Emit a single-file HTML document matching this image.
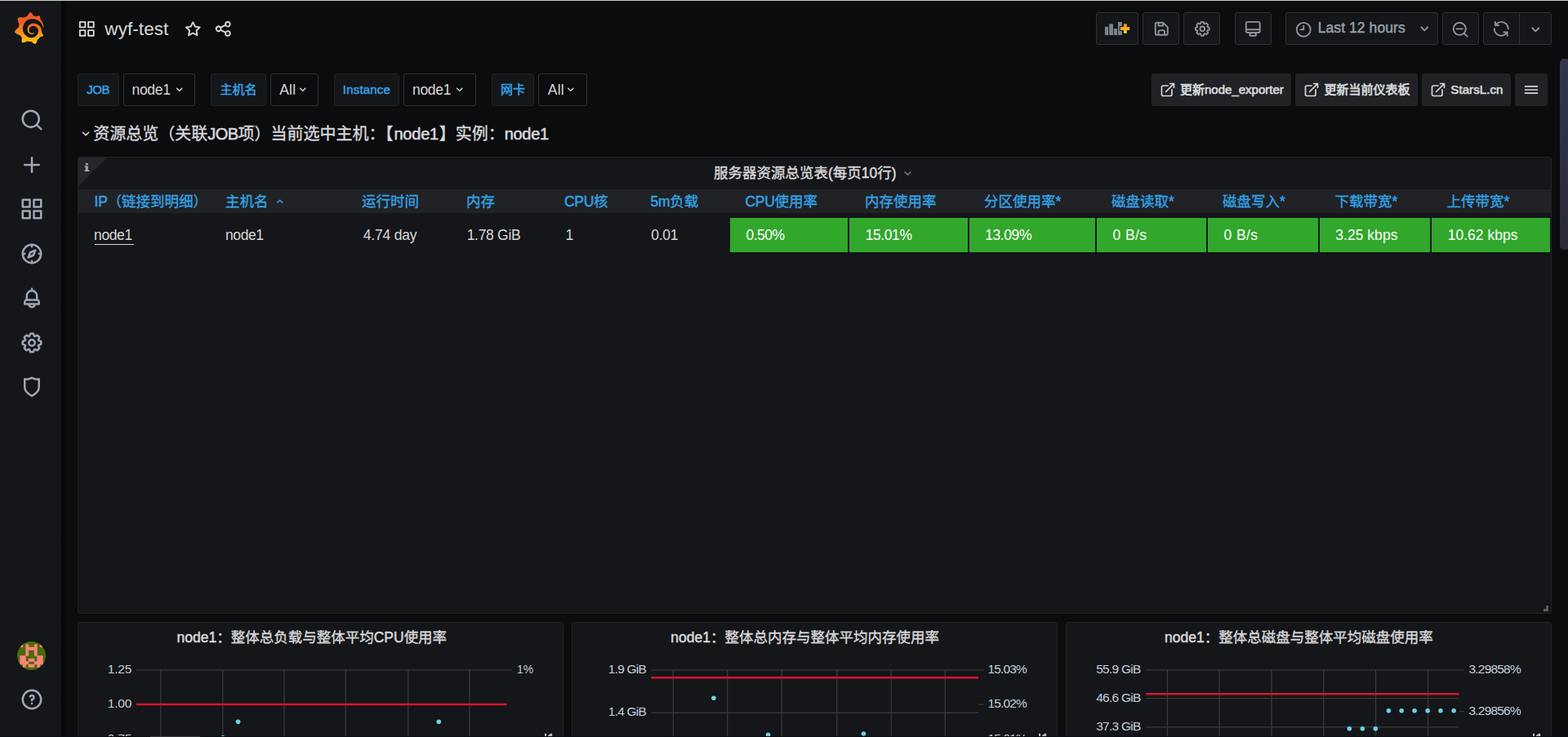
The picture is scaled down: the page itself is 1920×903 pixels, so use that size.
<!DOCTYPE html>
<html lang="zh"><head><meta charset="utf-8"><title>wyf-test - Grafana</title>
<style>
html,body{margin:0;padding:0;background:#0b0c0e;overflow:hidden}
body{width:1920px;height:903px;position:relative;font-family:"Liberation Sans","Noto Sans CJK SC",sans-serif;color:#c7d0d9}
#app{position:absolute;left:0;top:0;width:1920px;height:903px;overflow:hidden}
.t{position:absolute;white-space:nowrap;line-height:1;margin:0}
.b{position:absolute;box-sizing:border-box}
.ic{position:absolute;display:block}
.cj{font-family:"Liberation Sans","Noto Sans CJK SC",sans-serif;letter-spacing:0;-webkit-text-stroke:.35px currentColor}
.m{-webkit-text-stroke:.5px currentColor}
.bd{font-weight:bold}
.rl{letter-spacing:-.65px;-webkit-text-stroke:.55px currentColor}
.hl{letter-spacing:-.3px}

.lk{-webkit-text-stroke:.65px currentColor}
.lk .cj{-webkit-text-stroke:.7px currentColor}
nav,header,main,section,.submenu-controls,.dashboard-row{display:block;position:static;margin:0;padding:0;width:0;height:0}

</style></head>
<body>
<svg width="0" height="0" style="position:absolute"><defs><linearGradient id="lg" gradientUnits="userSpaceOnUse" x1="175.5" y1="445.4" x2="175.5" y2="114"><stop offset="0" stop-color="#fff100"/><stop offset="1" stop-color="#f05a28"/></linearGradient></defs></svg>
<div id="app">
<div class="b " style="left:0px;top:0px;width:1920px;height:1px;background:#cfcecb;"></div>
<nav class="sidemenu" aria-label="Main menu">
<div class="b " style="left:0px;top:1px;width:75px;height:902px;background:#141619;"></div>
<div class="b " style="left:75px;top:1px;width:8px;height:902px;background:linear-gradient(to right,#050607,#0b0c0e);"></div>
<svg class="ic" style="left:16.6px;top:14.9px;width:37.4px;height:38.9px" viewBox="0 0 351 365"><path fill="url(#lg)" d="M342 161.2c-.6-6.1-1.600-13.100-3.600-20.900-2-7.700-5-16.200-9.400-25-4.400-8.800-10.100-17.900-17.500-26.800-2.900-3.500-6.100-6.900-9.500-10.200 5.100-20.300-6.200-37.900-6.200-37.900-19.500-1.200-31.900 6.100-36.500 9.400-.8-.3-1.500-.7-2.300-1-3.300-1.300-6.700-2.600-10.300-3.700-3.500-1.100-7.100-2.100-10.800-3-3.700-.9-7.400-1.600-11.200-2.200-.7-.1-1.300-.2-2-.3-8.500-27.200-32.900-38.600-32.900-38.600-27.300 17.300-32.400 41.500-32.400 41.500s-.1.500-.3 1.400c-1.500.4-3 .9-4.500 1.300-2.100.6-4.200 1.400-6.200 2.200-2.100.8-4.100 1.600-6.200 2.500-4.100 1.800-8.200 3.800-12.200 6-3.900 2.200-7.700 4.600-11.400 7.100-.5-.2-1-.4-1-.4-37.800-14.400-71.300 2.900-71.300 2.900-3.100 40.200 15.100 65.500 18.700 70.100-.9 2.500-1.700 5-2.500 7.500-2.800 9.100-4.900 18.400-6.200 28.100-.2 1.400-.4 2.800-.5 4.200C18.800 192.700 8.500 228 8.500 228c29.100 33.500 63.100 35.600 63.100 35.600 0 0 .1-.1.1-.1 4.300 7.700 9.300 15 14.900 21.900 2.400 2.900 4.800 5.600 7.400 8.300-10.600 30.400 1.500 55.600 1.500 55.600 32.400 1.200 53.700-14.200 58.200-17.700 3.200 1.100 6.500 2.100 9.800 2.900 10 2.600 20.200 4.100 30.400 4.500 2.500.1 5.100.2 7.600.1h1.200l.8 0 1.600 0 1.600-.1 0 .1c15.300 21.800 42.100 24.900 42.100 24.900 19.100-20.100 20.200-40.100 20.200-44.400v0s0-.1 0-.3c0-.4 0-.6 0-.6s0 0 0 0c0-.3 0-.6 0-.9 4-2.800 7.800-5.800 11.400-9.100 7.600-6.900 14.300-14.800 19.900-23.300.5-.8 1-1.600 1.500-2.400 21.600 1.200 36.900-13.400 36.900-13.400-3.600-22.500-16.400-33.500-19.100-35.600 0 0-.1-.1-.3-.2-.2-.1-.2-.2-.2-.2 0 0 0 0 0 0-.1-.1-.3-.2-.5-.3.1-1.400.2-2.700.3-4.100.2-2.400.2-4.900.2-7.300v-1.800l0-.9v-.5c0-.6 0-.4 0-.6l-.1-1.500-.1-2c0-.7-.1-1.300-.2-1.900-.1-.6-.1-1.300-.2-1.900l-.2-1.900-.3-1.900c-.4-2.500-.8-4.900-1.400-7.400-2.300-9.700-6.100-18.900-11-27.200-5-8.300-11.200-15.600-18.300-21.800-7-6.200-14.900-11.200-23.100-14.900-8.300-3.700-16.900-6.100-25.500-7.200-4.300-.6-8.600-.8-12.900-.7l-1.600 0h-.4c-.1 0-.6 0-.5 0l-.7 0-1.600.1c-.6 0-1.200.1-1.700.1-2.200.2-4.400.5-6.500.9-8.600 1.600-16.700 4.700-23.800 9-7.100 4.300-13.300 9.600-18.300 15.600-5 6-8.900 12.700-11.600 19.600-2.700 6.900-4.200 14.100-4.600 21-.1 1.700-.1 3.500-.1 5.200 0 .4 0 .9 0 1.300l.1 1.400c.1.8.1 1.700.2 2.500.3 3.500 1 6.900 1.900 10.100 1.900 6.500 4.900 12.400 8.600 17.400 3.700 5 8.200 9.100 12.900 12.400 4.700 3.200 9.800 5.500 14.800 7 5 1.500 10 2.100 14.700 2.100.6 0 1.200 0 1.700 0 .3 0 .6 0 .9 0 .3 0 .6 0 .9-.1.5 0 1-.1 1.500-.1.100 0 .3 0 .4-.1l.5-.1c.3 0 .6-.1.9-.1.6-.1 1.100-.2 1.700-.3.6-.1 1.100-.2 1.600-.4 1.100-.2 2.100-.6 3.100-.9 2-.7 4-1.500 5.700-2.400 1.800-.9 3.400-2 5-3 .4-.3.9-.6 1.300-1 1.600-1.300 1.900-3.700.6-5.300-1.100-1.400-3.100-1.800-4.700-.9-.4.2-.8.4-1.200.6-1.400.7-2.800 1.300-4.300 1.800-1.500.5-3.100.9-4.700 1.200-.8.1-1.600.2-2.500.3-.4 0-.8.1-1.300.1-.4 0-.9 0-1.200 0-.4 0-.8 0-1.200 0-.5 0-1 0-1.500-.1 0 0-.3 0-.1 0l-.2 0-.3 0c-.2 0-.5 0-.7-.1-.5-.1-.9-.1-1.400-.2-3.700-.5-7.400-1.600-10.900-3.200-3.600-1.600-7-3.800-10.100-6.600-3.100-2.800-5.800-6.100-7.900-9.900-2.100-3.800-3.600-8-4.300-12.400-.3-2.200-.5-4.500-.4-6.700 0-.6.1-1.200.1-1.800 0 .2 0-.1 0-.1l0-.2 0-.5c0-.3.1-.6.1-.9.1-1.200.3-2.400.5-3.600 1.700-9.600 6.500-19 13.900-26.100 1.900-1.800 3.900-3.400 6-4.900 2.100-1.500 4.400-2.800 6.800-3.900 2.400-1.100 4.800-2 7.400-2.700 2.500-.7 5.100-1.100 7.800-1.400 1.300-.1 2.600-.2 4-.2.4 0 .6 0 .9 0l1.100 0 .7 0c.3 0 0 0 .1 0l.3 0 1.100.1c2.900.2 5.700.6 8.500 1.300 5.600 1.200 11.100 3.300 16.200 6.100 10.200 5.700 18.900 14.500 24.200 25.100 2.700 5.300 4.600 11 5.500 16.900.2 1.500.4 3 .5 4.500l.1 1.100.1 1.100c0 .4 0 .8 0 1.100 0 .4 0 .8 0 1.100v1l0 1.100c0 .7-.1 1.900-.1 2.600-.1 1.600-.3 3.300-.5 4.900-.2 1.600-.5 3.200-.8 4.800-.3 1.600-.7 3.200-1.100 4.700-.8 3.100-1.800 6.200-3 9.300-2.400 6-5.600 11.800-9.400 17.100-7.700 10.600-18.200 19.200-30.200 24.700-6 2.700-12.300 4.700-18.800 5.700-3.200.6-6.500.9-9.800 1l-.6 0h-.5l-1.100 0h-1.600-.8c.4 0-.1 0-.1 0l-.3 0c-1.800 0-3.500-.1-5.300-.3-7-.5-13.900-1.800-20.700-3.700-6.700-1.900-13.200-4.600-19.400-7.800-12.300-6.600-23.400-15.600-32-26.500-4.300-5.400-8.100-11.300-11.200-17.400-3.100-6.100-5.600-12.600-7.400-19.100-1.800-6.600-2.900-13.300-3.400-20.100l-.1-1.300 0-.3 0-.3 0-.6 0-1.100 0-.3v-.4-.8l0-1.600v-.3c0 0 0 .1 0-.1v-.6c0-.8 0-1.700 0-2.500.1-3.300.4-6.800.8-10.200.4-3.400 1-6.900 1.700-10.300.7-3.400 1.500-6.800 2.500-10.200 1.900-6.700 4.300-13.200 7.100-19.300 5.700-12.200 13.100-23.100 22-31.800 2.200-2.200 4.500-4.200 6.900-6.200 2.400-1.900 4.900-3.700 7.500-5.400 2.500-1.700 5.200-3.200 7.900-4.600 1.300-.7 2.700-1.400 4.100-2 .7-.3 1.400-.6 2.100-.9.7-.3 1.400-.6 2.100-.9 2.800-1.200 5.700-2.200 8.700-3.100.7-.2 1.500-.4 2.200-.7.7-.2 1.500-.4 2.200-.6 1.500-.4 3-.8 4.500-1.100.7-.2 1.500-.3 2.300-.5.8-.2 1.500-.3 2.300-.5.8-.1 1.500-.3 2.300-.4l1.100-.2 1.200-.2c.8-.1 1.500-.2 2.300-.3.9-.1 1.700-.2 2.600-.3.7-.1 1.900-.2 2.600-.3.5-.1 1.100-.1 1.600-.2l1.100-.1.5-.1.6 0c.9-.1 1.700-.1 2.600-.2l1.300-.1c0 0 .5 0 .1 0l.3 0 .6 0c.7 0 1.500-.1 2.200-.1 2.900-.1 5.900-.1 8.800 0 5.800.2 11.500.9 17 1.900 11.100 2.100 21.500 5.600 31 10.300 9.500 4.600 17.900 10.300 25.300 16.500.5.4.9.800 1.400 1.200.4.4.9.8 1.300 1.200.9.8 1.700 1.600 2.600 2.400.9.8 1.700 1.600 2.500 2.400.8.8 1.600 1.600 2.400 2.500 3.100 3.300 6 6.600 8.600 10 5.200 6.700 9.400 13.500 12.700 19.900.2.4.4.8.6 1.200.2.4.4.8.6 1.200.4.8.8 1.600 1.100 2.400.4.8.7 1.500 1.100 2.300.3.8.7 1.500 1 2.300 1.200 3 2.400 5.900 3.300 8.600 1.500 4.400 2.600 8.300 3.500 11.700.3 1.400 1.600 2.300 3 2.100 1.500-.1 2.600-1.300 2.600-2.800C342.600 170.400 342.500 166.100 342 161.200z"/></svg>
<svg class="ic" style="left:24.00px;top:132.00px;width:30px;height:30px;fill:#9fa7b3;" viewBox="0 0 24 24"><path d="M21.71,20.29,18,16.61A9,9,0,1,0,16.61,18l3.68,3.68a1,1,0,0,0,1.42,0A1,1,0,0,0,21.71,20.29ZM11,18a7,7,0,1,1,7-7A7,7,0,0,1,11,18Z"/></svg>
<svg class="ic" style="left:24.00px;top:187.20px;width:30px;height:30px;fill:#9fa7b3;" viewBox="0 0 24 24"><path d="M19,11H13V5a1,1,0,0,0-2,0v6H5a1,1,0,0,0,0,2h6v6a1,1,0,0,0,2,0V13h6a1,1,0,0,0,0-2Z"/></svg>
<svg class="ic" style="left:24.00px;top:241.30px;width:30px;height:30px;fill:#9fa7b3;" viewBox="0 0 24 24"><path d="M10,13H3a1,1,0,0,0-1,1v7a1,1,0,0,0,1,1h7a1,1,0,0,0,1-1V14A1,1,0,0,0,10,13ZM9,20H4V15H9ZM21,2H14a1,1,0,0,0-1,1v7a1,1,0,0,0,1,1h7a1,1,0,0,0,1-1V3A1,1,0,0,0,21,2ZM20,9H15V4h5Zm1,4H14a1,1,0,0,0-1,1v7a1,1,0,0,0,1,1h7a1,1,0,0,0,1-1V14A1,1,0,0,0,21,13Zm-1,7H15V15h5ZM10,2H3A1,1,0,0,0,2,3v7a1,1,0,0,0,1,1h7a1,1,0,0,0,1-1V3A1,1,0,0,0,10,2ZM9,9H4V4H9Z"/></svg>
<svg class="ic" style="left:24.00px;top:296.10px;width:30px;height:30px;fill:#9fa7b3;" viewBox="0 0 24 24"><path d="M12,2A10,10,0,1,0,22,12,10,10,0,0,0,12,2Zm1,17.930V19a1,1,0,0,0-2,0v.93A8,8,0,0,1,4.070,13H5a1,1,0,0,0,0-2H4.070A8,8,0,0,1,11,4.070V5a1,1,0,0,0,2,0V4.070A8,8,0,0,1,19.930,11H19a1,1,0,0,0,0,2h.93A8,8,0,0,1,13,19.930ZM15.140,7.550l-5,2.120a1,1,0,0,0-.52.520l-2.120,5a1,1,0,0,0,.21,1.100,1,1,0,0,0,.7.290.93.930,0,0,0,.4-.08l5-2.120a1,1,0,0,0,.52-.52l2.120-5a1,1,0,0,0-1.310-1.310Zm-2.490,5.100-2.280,1,1-2.280,2.280-1Z"/></svg>
<svg class="ic" style="left:24.00px;top:350.00px;width:30px;height:30px;fill:#9fa7b3;" viewBox="0 0 24 24"><path d="M18,13.18V10a6,6,0,0,0-5-5.910V3a1,1,0,0,0-2,0V4.090A6,6,0,0,0,6,10v3.180A3,3,0,0,0,4,16v2a1,1,0,0,0,1,1H8.140a4,4,0,0,0,7.720,0H19a1,1,0,0,0,1-1V16A3,3,0,0,0,18,13.180ZM8,10a4,4,0,0,1,8,0v3H8Zm4,10a2,2,0,0,1-1.720-1h3.440A2,2,0,0,1,12,20Zm6-3H6V16a1,1,0,0,1,1-1H17a1,1,0,0,1,1,1Z"/></svg>
<svg class="ic" style="left:24.00px;top:404.60px;width:30px;height:30px;fill:#9fa7b3;" viewBox="0 0 24 24"><path d="M21.32,9.55l-1.890-.63.890-1.780A1,1,0,0,0,20.130,6L18,3.870a1,1,0,0,0-1.150-.19l-1.780.89-.63-1.890A1,1,0,0,0,13.500,2h-3a1,1,0,0,0-.95.680L8.920,4.570,7.140,3.680A1,1,0,0,0,6,3.870L3.870,6a1,1,0,0,0-.19,1.150l.89,1.780-1.890.63A1,1,0,0,0,2,10.500v3a1,1,0,0,0,.68.950l1.890.63-.89,1.780A1,1,0,0,0,3.870,18L6,20.130a1,1,0,0,0,1.150.19l1.780-.89.63,1.890a1,1,0,0,0,.95.680h3a1,1,0,0,0,.95-.68l.63-1.890,1.780.89A1,1,0,0,0,18,20.130L20.130,18a1,1,0,0,0,.19-1.150l-.89-1.780,1.890-.63A1,1,0,0,0,22,13.500v-3A1,1,0,0,0,21.320,9.550ZM20,12.780l-1.200.4A2,2,0,0,0,17.640,16l.57,1.140-1.100,1.100L16,17.640a2,2,0,0,0-2.790,1.160l-.4,1.200H11.220l-.4-1.200A2,2,0,0,0,8,17.640l-1.140.57-1.100-1.100L6.360,16A2,2,0,0,0,5.200,13.180L4,12.780V11.220l1.200-.4A2,2,0,0,0,6.360,8L5.790,6.890l1.100-1.100L8,6.360A2,2,0,0,0,10.820,5.200l.4-1.200h1.560l.4,1.200A2,2,0,0,0,16,6.360l1.140-.57,1.100,1.100L17.640,8a2,2,0,0,0,1.160,2.790l1.200.4ZM12,8a4,4,0,1,0,4,4A4,4,0,0,0,12,8Zm0,6a2,2,0,1,1,2-2A2,2,0,0,1,12,14Z"/></svg>
<svg class="ic" style="left:24.00px;top:458.90px;width:30px;height:30px;fill:#9fa7b3;" viewBox="0 0 24 24"><path d="M19.63,3.65a1,1,0,0,0-.84-.2,8,8,0,0,1-6.220-1.270,1,1,0,0,0-1.140,0A8,8,0,0,1,5.210,3.450a1,1,0,0,0-.84.2A1,1,0,0,0,4,4.430v7.450a9,9,0,0,0,3.770,7.330l3.650,2.600a1,1,0,0,0,1.160,0l3.650-2.600A9,9,0,0,0,20,11.880V4.430A1,1,0,0,0,19.630,3.650ZM18,11.880a7,7,0,0,1-2.930,5.690L12,19.770l-3.070-2.200A7,7,0,0,1,6,11.880V5.580a10,10,0,0,0,6-1.390,10,10,0,0,0,6,1.390Z"/></svg>
<svg class="ic" style="left:21.2px;top:785.9px;width:35px;height:35px;border-radius:50%;background:#4a6b0a" viewBox="-1 -1 10 10"><path fill="#ff847a" d="M-0.04 -0.04H1.04V1.04H-0.04ZM1.96 -0.04H3.04V1.04H1.96ZM4.96 -0.04H6.04V1.04H4.96ZM6.96 -0.04H8.04V1.04H6.96ZM1.96 0.96H6.04V2.04H1.96ZM1.96 1.96H3.04V3.04H1.96ZM4.96 1.96H6.04V3.04H4.96ZM1.96 2.96H3.04V4.04H1.96ZM4.96 2.96H6.04V4.04H4.96ZM-0.04 3.96H2.04V5.04H-0.04ZM5.96 3.96H8.04V5.04H5.96ZM-0.04 4.96H2.04V6.04H-0.04ZM2.96 4.96H5.04V6.04H2.96ZM5.96 4.96H8.04V6.04H5.96ZM-0.04 5.96H3.04V7.04H-0.04ZM4.96 5.96H8.04V7.04H4.96ZM0.96 6.96H2.04V8.04H0.96ZM2.96 6.96H5.04V8.04H2.96ZM5.96 6.96H7.04V8.04H5.96ZM2.02 0.5H2.98V1.5H2.02ZM5.02 0.5H5.98V1.5H5.02ZM2.02 1.5H2.98V2.5H2.02ZM5.02 1.5H5.98V2.5H5.02ZM2.02 2.5H2.98V3.5H2.02ZM5.02 2.5H5.98V3.5H5.02ZM0.02 4.5H0.98V5.5H0.02ZM1.02 4.5H1.98V5.5H1.02ZM6.02 4.5H6.98V5.5H6.02ZM7.02 4.5H7.98V5.5H7.02ZM0.02 5.5H0.98V6.5H0.02ZM1.02 5.5H1.98V6.5H1.02ZM6.02 5.5H6.98V6.5H6.02ZM7.02 5.5H7.98V6.5H7.02ZM1.02 6.5H1.98V7.5H1.02ZM6.02 6.5H6.98V7.5H6.02Z"/></svg>
<svg class="ic" style="left:23.80px;top:842.00px;width:30px;height:30px;fill:#9fa7b3;" viewBox="0 0 24 24"><path d="M11.29,15.29a1.58,1.58,0,0,0-.12.15.76.76,0,0,0-.09.18.64.64,0,0,0-.06.18,1.36,1.36,0,0,0,0,.2.84.84,0,0,0,.08.38.9.9,0,0,0,.54.54.94.94,0,0,0,.76,0,.9.9,0,0,0,.54-.54A1,1,0,0,0,13,16a1,1,0,0,0-.29-.71A1,1,0,0,0,11.29,15.29ZM12,2A10,10,0,1,0,22,12,10,10,0,0,0,12,2Zm0,18a8,8,0,1,1,8-8A8,8,0,0,1,12,20ZM12,7A3,3,0,0,0,9.4,8.5a1,1,0,1,0,1.73,1A1,1,0,0,1,12,9a1,1,0,0,1,0,2,1,1,0,0,0-1,1v1a1,1,0,0,0,2,0v-.18A3,3,0,0,0,12,7Z"/></svg>
</nav>
<header class="navbar">
<svg class="ic" style="left:95.15px;top:23.65px;width:22.5px;height:22.5px;fill:#d8d9da;" viewBox="0 0 24 24"><path d="M10,13H3a1,1,0,0,0-1,1v7a1,1,0,0,0,1,1h7a1,1,0,0,0,1-1V14A1,1,0,0,0,10,13ZM9,20H4V15H9ZM21,2H14a1,1,0,0,0-1,1v7a1,1,0,0,0,1,1h7a1,1,0,0,0,1-1V3A1,1,0,0,0,21,2ZM20,9H15V4h5Zm1,4H14a1,1,0,0,0-1,1v7a1,1,0,0,0,1,1h7a1,1,0,0,0,1-1V14A1,1,0,0,0,21,13Zm-1,7H15V15h5ZM10,2H3A1,1,0,0,0,2,3v7a1,1,0,0,0,1,1h7a1,1,0,0,0,1-1V3A1,1,0,0,0,10,2ZM9,9H4V4H9Z"/></svg>
<div class="t " id="title" style="left:128.30px;top:25px;font-size:22.5px;color:#d8d9da;letter-spacing:0.080px;">wyf-test</div>
<svg class="ic" style="left:224.75px;top:23.55px;width:22.5px;height:22.5px;fill:#d8d9da;" viewBox="0 0 24 24"><path d="M22,9.67A1,1,0,0,0,21.14,9l-5.69-.83L12.9,3a1,1,0,0,0-1.8,0L8.55,8.16,2.86,9a1,1,0,0,0-.81.68,1,1,0,0,0,.25,1l4.13,4-1,5.68A1,1,0,0,0,6.900,21.440L12,18.770l5.100,2.670a.93.93,0,0,0,.46.12,1,1,0,0,0,.59-.19,1,1,0,0,0,.4-1l-1-5.680,4.130-4A1,1,0,0,0,22,9.670Zm-6.150,4a1,1,0,0,0-.29.880l.72,4.200-3.760-2a1.060,1.060,0,0,0-.94,0l-3.760,2,.72-4.200a1,1,0,0,0-.29-.880l-3-3,4.210-.61a1,1,0,0,0,.76-.55L12,5.700l1.880,3.820a1,1,0,0,0,.76.55l4.210.61Z"/></svg>
<svg class="ic" style="left:262.45px;top:23.75px;width:22.5px;height:22.5px;fill:#d8d9da;" viewBox="0 0 24 24"><path d="M18,14a4,4,0,0,0-3.080,1.480l-5.100-2.350a3.640,3.640,0,0,0,0-2.260l5.100-2.350A4,4,0,1,0,14,6a4.170,4.170,0,0,0,.07.710L8.790,9.140a4,4,0,1,0,0,5.720l5.280,2.430A4.170,4.170,0,0,0,14,18a4,4,0,1,0,4-4ZM18,4a2,2,0,1,1-2,2A2,2,0,0,1,18,4ZM6,14a2,2,0,1,1,2-2A2,2,0,0,1,6,14Zm12,6a2,2,0,1,1,2-2A2,2,0,0,1,18,20Z"/></svg>
<div class="b " style="left:1342px;top:15px;width:52px;height:40px;background:#141619;border:1px solid #2c3235;border-radius:3px;"></div>
<div class="b " style="left:1399px;top:15px;width:45px;height:40px;background:#141619;border:1px solid #2c3235;border-radius:3px;"></div>
<div class="b " style="left:1449px;top:15px;width:45px;height:40px;background:#141619;border:1px solid #2c3235;border-radius:3px;"></div>
<div class="b " style="left:1512px;top:15px;width:45px;height:40px;background:#141619;border:1px solid #2c3235;border-radius:3px;"></div>
<div class="b " style="left:1574px;top:15px;width:187px;height:40px;background:#141619;border:1px solid #2c3235;border-radius:3px;"></div>
<div class="b " style="left:1766px;top:15px;width:45px;height:40px;background:#141619;border:1px solid #2c3235;border-radius:3px;"></div>
<div class="b " style="left:1816px;top:15px;width:84px;height:40px;background:#141619;border:1px solid #2c3235;border-radius:3px;"></div>
<div class="b " style="left:1860px;top:16px;width:1px;height:38px;background:#2c3235;"></div>
<svg class="ic" style="left:1350px;top:24px;width:36px;height:22px" viewBox="0 0 36 22"><defs><linearGradient id="pg" x1="0" y1="0" x2="0" y2="1"><stop offset="0" stop-color="#ff8833"/><stop offset="1" stop-color="#ffd21f"/></linearGradient></defs><g fill="#7e848e"><rect x="2.9" y="8.700" width="4.2" height="10.3"/><rect x="8.2" y="5.3" width="4.800" height="13.7"/><rect x="13.9" y="11.1" width="4.100" height="7.9"/><rect x="19" y="3" width="4.800" height="16"/></g><path fill="#141619" d="M20.800 7.900h4.100V4.300h5.900v3.600h3.400v6.100h-3.400v3.800h-5.900v-3.800h-4.100z"/><path fill="url(#pg)" d="M21.800 8.900h4.100V5.300h3.900v3.600h3.400v4.100h-3.400v3.800h-3.900v-3.800h-4.100z"/></svg>
<svg class="ic" style="left:1410.95px;top:24.35px;width:22.5px;height:22.5px;fill:#8e949d;" viewBox="0 0 24 24"><path d="M20.71,9.29l-6-6a1,1,0,0,0-.32-.21A1.090,1.090,0,0,0,14,3H6A3,3,0,0,0,3,6V18a3,3,0,0,0,3,3H18a3,3,0,0,0,3-3V10A1,1,0,0,0,20.710,9.290ZM9,5h4V7H9Zm6,14H9V16a1,1,0,0,1,1-1h4a1,1,0,0,1,1,1Zm4-1a1,1,0,0,1-1,1H17V16a3,3,0,0,0-3-3H10a3,3,0,0,0-3,3v3H6a1,1,0,0,1-1-1V6A1,1,0,0,1,6,5H7V8A1,1,0,0,0,8,9h6a1,1,0,0,0,1-1V6.410l4,4Z"/></svg>
<svg class="ic" style="left:1460.75px;top:24.25px;width:22.5px;height:22.5px;fill:#8e949d;" viewBox="0 0 24 24"><path d="M21.32,9.55l-1.890-.63.890-1.780A1,1,0,0,0,20.130,6L18,3.870a1,1,0,0,0-1.150-.19l-1.780.89-.63-1.890A1,1,0,0,0,13.500,2h-3a1,1,0,0,0-.95.680L8.920,4.570,7.140,3.680A1,1,0,0,0,6,3.870L3.870,6a1,1,0,0,0-.19,1.150l.89,1.780-1.890.63A1,1,0,0,0,2,10.500v3a1,1,0,0,0,.68.950l1.890.63-.89,1.780A1,1,0,0,0,3.870,18L6,20.130a1,1,0,0,0,1.150.19l1.780-.89.63,1.890a1,1,0,0,0,.95.680h3a1,1,0,0,0,.95-.68l.63-1.890,1.780.89A1,1,0,0,0,18,20.130L20.130,18a1,1,0,0,0,.19-1.150l-.89-1.780,1.890-.63A1,1,0,0,0,22,13.500v-3A1,1,0,0,0,21.320,9.550ZM20,12.780l-1.200.4A2,2,0,0,0,17.640,16l.57,1.140-1.100,1.100L16,17.640a2,2,0,0,0-2.790,1.160l-.4,1.200H11.220l-.4-1.200A2,2,0,0,0,8,17.640l-1.140.57-1.100-1.100L6.360,16A2,2,0,0,0,5.200,13.180L4,12.780V11.220l1.200-.4A2,2,0,0,0,6.360,8L5.790,6.890l1.100-1.100L8,6.360A2,2,0,0,0,10.820,5.200l.4-1.200h1.560l.4,1.200A2,2,0,0,0,16,6.360l1.140-.57,1.100,1.100L17.640,8a2,2,0,0,0,1.160,2.790l1.200.4ZM12,8a4,4,0,1,0,4,4A4,4,0,0,0,12,8Zm0,6a2,2,0,1,1,2-2A2,2,0,0,1,12,14Z"/></svg>
<svg class="ic" style="left:1523.15px;top:24.25px;width:22.5px;height:22.5px;fill:#8e949d;" viewBox="0 0 24 24"><path d="M19,2H5A3,3,0,0,0,2,5V15a3,3,0,0,0,3,3H7.640l-.58,1a2,2,0,0,0,0,2,2,2,0,0,0,1.750,1h6.460A2,2,0,0,0,17,21a2,2,0,0,0,0-2l-.59-1H19a3,3,0,0,0,3-3V5A3,3,0,0,0,19,2ZM8.770,20,10,18H14l1.200,2ZM20,15a1,1,0,0,1-1,1H5a1,1,0,0,1-1-1V14H20Zm0-3H4V5A1,1,0,0,1,5,4H19a1,1,0,0,1,1,1Z"/></svg>
<svg class="ic" style="left:1584.75px;top:24.55px;width:22.5px;height:22.5px;fill:#8e949d;" viewBox="0 0 24 24"><path d="M12,2A10,10,0,1,0,22,12,10.011,10.011,0,0,0,12,2Zm0,18a8,8,0,1,1,8-8A8.009,8.009,0,0,1,12,20ZM12,6a1,1,0,0,0-1,1v4H8a1,1,0,0,0,0,2h4a1,1,0,0,0,1-1V7A1,1,0,0,0,12,6Z"/></svg>
<div class="t m" id="tp" style="left:1613.76px;top:26px;font-size:17.5px;color:#969da7;letter-spacing:0.070px;">Last 12 hours</div>
<svg class="ic" style="left:1732.75px;top:24.25px;width:22.5px;height:22.5px;fill:#8e949d;" viewBox="0 0 24 24"><path d="M17,9.17a1,1,0,0,0-1.41,0L12,12.71,8.46,9.17a1,1,0,0,0-1.41,0,1,1,0,0,0,0,1.42l4.24,4.24a1,1,0,0,0,1.42,0L17,10.59A1,1,0,0,0,17,9.17Z"/></svg>
<svg class="ic" style="left:1777.45px;top:24.75px;width:22.5px;height:22.5px;fill:#8e949d;" viewBox="0 0 24 24"><path d="M21.71,20.29,18,16.61A9,9,0,1,0,16.61,18l3.68,3.68a1,1,0,0,0,1.420,0A1,1,0,0,0,21.710,20.290ZM11,18a7,7,0,1,1,7-7A7,7,0,0,1,11,18Zm4-8H7a1,1,0,0,0,0,2h8a1,1,0,0,0,0-2Z"/></svg>
<svg class="ic" style="left:1827.45px;top:24.35px;width:22.5px;height:22.5px;fill:#8e949d;" viewBox="0 0 24 24"><path d="M19.91,15.51H15.38a1,1,0,0,0,0,2h2.400A8,8,0,0,1,4,12a1,1,0,0,0-2,0,10,10,0,0,0,16.880,7.230V21a1,1,0,0,0,2,0V16.500A1,1,0,0,0,19.910,15.510ZM12,2A10,10,0,0,0,5.120,4.770V3a1,1,0,0,0-2,0V7.500a1,1,0,0,0,1,1h4.500a1,1,0,0,0,0-2H6.220A8,8,0,0,1,20,12a1,1,0,0,0,2,0A10,10,0,0,0,12,2Z"/></svg>
<svg class="ic" style="left:1868.75px;top:24.75px;width:22.5px;height:22.5px;fill:#8e949d;" viewBox="0 0 24 24"><path d="M17,9.17a1,1,0,0,0-1.41,0L12,12.71,8.46,9.17a1,1,0,0,0-1.41,0,1,1,0,0,0,0,1.42l4.24,4.24a1,1,0,0,0,1.42,0L17,10.59A1,1,0,0,0,17,9.17Z"/></svg>
</header>
<div class="submenu-controls">
<div class="b " style="left:95px;top:90px;width:51px;height:40px;background:#141619;border:1px solid #1f2125;border-radius:3px;"></div>
<div class="t m" id="v1" style="left:106.14px;top:102px;font-size:15px;color:#33a2e5;letter-spacing:-0.420px;">JOB</div>
<div class="b " style="left:151px;top:90px;width:88px;height:40px;background:#0b0c0e;border:1px solid #2c3235;border-radius:3px;"></div>
<div class="t " id="vv1" style="left:161.50px;top:102px;font-size:17.5px;color:#d8d9da;letter-spacing:-0.300px;">node1</div>
<svg class="ic" style="left:210.75px;top:101.25px;width:17.5px;height:17.5px;fill:#d8d9da;" viewBox="0 0 24 24"><path d="M17,9.17a1,1,0,0,0-1.41,0L12,12.71,8.46,9.17a1,1,0,0,0-1.41,0,1,1,0,0,0,0,1.42l4.24,4.24a1,1,0,0,0,1.42,0L17,10.59A1,1,0,0,0,17,9.170Z"/></svg>
<div class="b " style="left:258px;top:90px;width:68px;height:40px;background:#141619;border:1px solid #1f2125;border-radius:3px;"></div>
<div class="t m" style="left:269.50px;top:102px;font-size:15px;color:#33a2e5;">主机名</div>
<div class="b " style="left:331px;top:90px;width:59px;height:40px;background:#0b0c0e;border:1px solid #2c3235;border-radius:3px;"></div>
<div class="t " id="vv2" style="left:342.15px;top:102px;font-size:17.5px;color:#d8d9da;letter-spacing:0.300px;">All</div>
<svg class="ic" style="left:361.65px;top:101.25px;width:17.5px;height:17.5px;fill:#d8d9da;" viewBox="0 0 24 24"><path d="M17,9.17a1,1,0,0,0-1.41,0L12,12.71,8.46,9.17a1,1,0,0,0-1.41,0,1,1,0,0,0,0,1.42l4.24,4.24a1,1,0,0,0,1.42,0L17,10.59A1,1,0,0,0,17,9.17Z"/></svg>
<div class="b " style="left:409px;top:90px;width:80px;height:40px;background:#141619;border:1px solid #1f2125;border-radius:3px;"></div>
<div class="t m" id="v3" style="left:419.80px;top:102px;font-size:15px;color:#33a2e5;letter-spacing:0.200px;">Instance</div>
<div class="b " style="left:494px;top:90px;width:89px;height:40px;background:#0b0c0e;border:1px solid #2c3235;border-radius:3px;"></div>
<div class="t " id="vv3" style="left:505.00px;top:102px;font-size:17.5px;color:#d8d9da;letter-spacing:-0.300px;">node1</div>
<svg class="ic" style="left:553.75px;top:101.25px;width:17.5px;height:17.5px;fill:#d8d9da;" viewBox="0 0 24 24"><path d="M17,9.17a1,1,0,0,0-1.41,0L12,12.71,8.46,9.17a1,1,0,0,0-1.41,0,1,1,0,0,0,0,1.42l4.24,4.24a1,1,0,0,0,1.42,0L17,10.59A1,1,0,0,0,17,9.17Z"/></svg>
<div class="b " style="left:602px;top:90px;width:52px;height:40px;background:#141619;border:1px solid #1f2125;border-radius:3px;"></div>
<div class="t m" style="left:613.00px;top:102px;font-size:15px;color:#33a2e5;">网卡</div>
<div class="b " style="left:659px;top:90px;width:60px;height:40px;background:#0b0c0e;border:1px solid #2c3235;border-radius:3px;"></div>
<div class="t " id="vv4" style="left:670.70px;top:102px;font-size:17.5px;color:#d8d9da;letter-spacing:0.300px;">All</div>
<svg class="ic" style="left:689.75px;top:101.25px;width:17.5px;height:17.5px;fill:#d8d9da;" viewBox="0 0 24 24"><path d="M17,9.17a1,1,0,0,0-1.41,0L12,12.71,8.46,9.17a1,1,0,0,0-1.41,0,1,1,0,0,0,0,1.42l4.24,4.24a1,1,0,0,0,1.42,0L17,10.59A1,1,0,0,0,17,9.17Z"/></svg>
<div class="b " style="left:1410px;top:90px;width:171px;height:40px;background:#202226;border-radius:3px;"></div>
<svg class="ic" style="left:1420.00px;top:100.00px;width:20px;height:20px;fill:#d8d9da;" viewBox="0 0 24 24"><path d="M18,10.82a1,1,0,0,0-1,1V19a1,1,0,0,1-1,1H5a1,1,0,0,1-1-1V8A1,1,0,0,1,5,7h7.180a1,1,0,0,0,0-2H5A3,3,0,0,0,2,8V19a3,3,0,0,0,3,3H16a3,3,0,0,0,3-3V11.820A1,1,0,0,0,18,10.820Zm3.920-8.200a1,1,0,0,0-.54-.54A1,1,0,0,0,21,2H15a1,1,0,0,0,0,2h3.590L8.290,14.290a1,1,0,0,0,0,1.420,1,1,0,0,0,1.420,0L20,5.410V9a1,1,0,0,0,2,0V3A1,1,0,0,0,21.920,2.620Z"/></svg>
<div class="t lk" id="l1" style="left:1445.00px;top:102px;font-size:15px;color:#d8d9da;"><span class="cj">更新</span>node_exporter</div>
<div class="b " style="left:1586px;top:90px;width:150px;height:40px;background:#202226;border-radius:3px;"></div>
<svg class="ic" style="left:1596.00px;top:100.00px;width:20px;height:20px;fill:#d8d9da;" viewBox="0 0 24 24"><path d="M18,10.82a1,1,0,0,0-1,1V19a1,1,0,0,1-1,1H5a1,1,0,0,1-1-1V8A1,1,0,0,1,5,7h7.180a1,1,0,0,0,0-2H5A3,3,0,0,0,2,8V19a3,3,0,0,0,3,3H16a3,3,0,0,0,3-3V11.820A1,1,0,0,0,18,10.820Zm3.920-8.200a1,1,0,0,0-.54-.54A1,1,0,0,0,21,2H15a1,1,0,0,0,0,2h3.590L8.290,14.290a1,1,0,0,0,0,1.420,1,1,0,0,0,1.420,0L20,5.410V9a1,1,0,0,0,2,0V3A1,1,0,0,0,21.920,2.620Z"/></svg>
<div class="t lk" style="left:1621.50px;top:102px;font-size:15px;color:#d8d9da;"><span class="cj">更新当前仪表板</span></div>
<div class="b " style="left:1741px;top:90px;width:109px;height:40px;background:#202226;border-radius:3px;"></div>
<svg class="ic" style="left:1750.80px;top:100.00px;width:20px;height:20px;fill:#d8d9da;" viewBox="0 0 24 24"><path d="M18,10.82a1,1,0,0,0-1,1V19a1,1,0,0,1-1,1H5a1,1,0,0,1-1-1V8A1,1,0,0,1,5,7h7.180a1,1,0,0,0,0-2H5A3,3,0,0,0,2,8V19a3,3,0,0,0,3,3H16a3,3,0,0,0,3-3V11.820A1,1,0,0,0,18,10.820Zm3.920-8.200a1,1,0,0,0-.54-.54A1,1,0,0,0,21,2H15a1,1,0,0,0,0,2h3.590L8.290,14.290a1,1,0,0,0,0,1.420,1,1,0,0,0,1.420,0L20,5.410V9a1,1,0,0,0,2,0V3A1,1,0,0,0,21.920,2.620Z"/></svg>
<div class="t lk" id="l3" style="left:1776.30px;top:102px;font-size:15px;color:#d8d9da;letter-spacing:0.100px;">StarsL.cn</div>
<div class="b " style="left:1855px;top:90px;width:40px;height:40px;background:#202226;border-radius:3px;"></div>
<svg class="ic" style="left:1864.80px;top:100.00px;width:20px;height:20px;fill:#d8d9da;" viewBox="0 0 24 24"><path d="M3,8H21a1,1,0,0,0,0-2H3A1,1,0,0,0,3,8Zm18,8H3a1,1,0,0,0,0,2H21a1,1,0,0,0,0-2Zm0-5H3a1,1,0,0,0,0,2H21a1,1,0,0,0,0-2Z"/></svg>
</div>
<div class="b " style="left:1910px;top:71.5px;width:12px;height:234.5px;border-radius:5px;background:linear-gradient(#34374b,#282a38);"></div>
<main class="dashboard-container">
<div class="dashboard-row">
<svg class="ic" style="left:95.20px;top:153.80px;width:20px;height:20px;fill:#d8d9da;" viewBox="0 0 24 24"><path d="M17,9.17a1,1,0,0,0-1.41,0L12,12.71,8.46,9.17a1,1,0,0,0-1.41,0,1,1,0,0,0,0,1.42l4.24,4.24a1,1,0,0,0,1.42,0L17,10.59A1,1,0,0,0,17,9.17Z"/></svg>
<div class="t " id="row" style="left:114.30px;top:154px;font-size:20px;color:#d8d9da;"><span class="cj">资源总览（关联</span><span class="rl" style="letter-spacing:-.6px">JOB</span><span class="cj">项）当前选中主机：【</span><span class="rl" style="letter-spacing:-.2px;margin-left:1px;margin-right:.8px">node1</span><span class="cj">】实例：</span><span class="rl" style="letter-spacing:-.35px">node1</span></div>
</div>
<section class="panel-container table-panel">
<div class="b " style="left:95px;top:192px;width:1805px;height:560px;background:#141619;border:1px solid #202226;border-radius:3px;"></div>
<svg class="ic" style="left:96px;top:193px;width:36px;height:36px" viewBox="0 0 36 36"><path d="M0 0H35L0 35Z" fill="#24262b"/><path fill="#a4a8ae" d="M8.800 7h3v2.200h-3zM7.800 10.200h4v5h1.500v1.900h-5.700v-1.900h1.200v-3.300h-1z"/></svg>
<div class="t " id="p1t" style="left:874.00px;top:204px;font-size:17.5px;color:#d8d9da;"><span class="cj">服务器资源总览表</span><span class="pl m">(</span><span class="cj">每页</span><span class="pl m">10</span><span class="cj">行</span><span class="pl m">)</span></div>
<svg class="ic" style="left:1101.50px;top:203.30px;width:19px;height:19px;fill:#6e747d;" viewBox="0 0 24 24"><path d="M17,9.17a1,1,0,0,0-1.41,0L12,12.71,8.46,9.17a1,1,0,0,0-1.41,0,1,1,0,0,0,0,1.42l4.24,4.24a1,1,0,0,0,1.42,0L17,10.59A1,1,0,0,0,17,9.17Z"/></svg>
<div class="b " style="left:96px;top:232px;width:1803px;height:29px;background:#202226;"></div>
<div class="t " id="h0" style="left:115.60px;top:239px;font-size:17.5px;color:#33a2e5;"><span class="hl m">IP</span><span class="cj">（链接到明细）</span></div>
<div class="t " id="h1" style="left:276.00px;top:239px;font-size:17.5px;color:#33a2e5;"><span class="cj">主机名</span></div>
<div class="t " id="h2" style="left:443.00px;top:239px;font-size:17.5px;color:#33a2e5;"><span class="cj">运行时间</span></div>
<div class="t " id="h3" style="left:571.00px;top:239px;font-size:17.5px;color:#33a2e5;"><span class="cj">内存</span></div>
<div class="t " id="h4" style="left:691.00px;top:239px;font-size:17.5px;color:#33a2e5;"><span class="hl m">CPU</span><span class="cj">核</span></div>
<div class="t " id="h5" style="left:796.50px;top:239px;font-size:17.5px;color:#33a2e5;"><span class="hl m">5m</span><span class="cj">负载</span></div>
<div class="t " id="h6" style="left:912.50px;top:239px;font-size:17.5px;color:#33a2e5;"><span class="hl m">CPU</span><span class="cj">使用率</span></div>
<div class="t " id="h7" style="left:1059.00px;top:239px;font-size:17.5px;color:#33a2e5;"><span class="cj">内存使用率</span></div>
<div class="t " id="h8" style="left:1205.00px;top:239px;font-size:17.5px;color:#33a2e5;"><span class="cj">分区使用率</span><span class="hl m">*</span></div>
<div class="t " id="h9" style="left:1361.00px;top:239px;font-size:17.5px;color:#33a2e5;"><span class="cj">磁盘读取</span><span class="hl m">*</span></div>
<div class="t " id="h10" style="left:1497.00px;top:239px;font-size:17.5px;color:#33a2e5;"><span class="cj">磁盘写入</span><span class="hl m">*</span></div>
<div class="t " id="h11" style="left:1634.50px;top:239px;font-size:17.5px;color:#33a2e5;"><span class="cj">下载带宽</span><span class="hl m">*</span></div>
<div class="t " id="h12" style="left:1771.50px;top:239px;font-size:17.5px;color:#33a2e5;"><span class="cj">上传带宽</span><span class="hl m">*</span></div>
<svg class="ic" style="left:333.55px;top:238.25px;width:17.5px;height:17.5px;fill:#33a2e5;" viewBox="0 0 24 24"><path d="M17,13.41,12.71,9.17a1,1,0,0,0-1.42,0L7.05,13.41a1,1,0,0,0,0,1.42,1,1,0,0,0,1.41,0L12,11.29l3.54,3.54a1,1,0,0,0,.7.29,1,1,0,0,0,.71-.29A1,1,0,0,0,17,13.41Z"/></svg>
<div class="b " style="left:894px;top:267px;width:144px;height:42px;background:#31a72c;"></div>
<div class="b " style="left:1040px;top:267px;width:145px;height:42px;background:#31a72c;"></div>
<div class="b " style="left:1187px;top:267px;width:154px;height:42px;background:#31a72c;"></div>
<div class="b " style="left:1343px;top:267px;width:134px;height:42px;background:#31a72c;"></div>
<div class="b " style="left:1479px;top:267px;width:135px;height:42px;background:#31a72c;"></div>
<div class="b " style="left:1616px;top:267px;width:135px;height:42px;background:#31a72c;"></div>
<div class="b " style="left:1753px;top:267px;width:145px;height:42px;background:#31a72c;"></div>
<div class="t " id="d0" style="left:115.10px;top:280px;font-size:17.5px;color:#d8d9da;letter-spacing:-0.400px;">node1</div>
<div class="b " style="left:115.6px;top:298.7px;width:48.400000000000006px;height:1.0px;background:#d8d9da;"></div>
<div class="t " id="d1" style="left:276.00px;top:280px;font-size:17.5px;color:#d8d9da;letter-spacing:-0.400px;">node1</div>
<div class="t " id="d2" style="left:444.80px;top:280px;font-size:17.5px;color:#d8d9da;letter-spacing:-0.200px;">4.74 day</div>
<div class="t " id="d3" style="left:571.70px;top:280px;font-size:17.5px;color:#d8d9da;letter-spacing:-0.300px;">1.78 GiB</div>
<div class="t " id="d4" style="left:692.50px;top:280px;font-size:17.5px;color:#d8d9da;">1</div>
<div class="t " id="d5" style="left:797.30px;top:280px;font-size:17.5px;color:#d8d9da;letter-spacing:-0.300px;">0.01</div>
<div class="t " id="d6" style="left:913.50px;top:280px;font-size:17.5px;color:#fff;letter-spacing:-0.500px;">0.50%</div>
<div class="t " id="d7" style="left:1059.70px;top:280px;font-size:17.5px;color:#fff;letter-spacing:-0.420px;">15.01%</div>
<div class="t " id="d8" style="left:1206.20px;top:280px;font-size:17.5px;color:#fff;letter-spacing:-0.420px;">13.09%</div>
<div class="t " id="d9" style="left:1362.40px;top:280px;font-size:17.5px;color:#fff;letter-spacing:0.450px;">0 B/s</div>
<div class="t " id="d10" style="left:1498.40px;top:280px;font-size:17.5px;color:#fff;letter-spacing:0.450px;">0 B/s</div>
<div class="t " id="d11" style="left:1635.27px;top:280px;font-size:17.5px;color:#fff;letter-spacing:0.030px;">3.25 kbps</div>
<div class="t " id="d12" style="left:1772.70px;top:280px;font-size:17.5px;color:#fff;letter-spacing:0.030px;">10.62 kbps</div>
<div class="b " style="left:1893px;top:742px;width:3px;height:7px;background:#5b5b5c;"></div>
<div class="b " style="left:1890px;top:746px;width:6px;height:3px;background:#5b5b5c;"></div>
</section>
<section class="panel-container graph-panel">
<div class="b " style="left:95px;top:762px;width:595px;height:148px;background:#141619;border:1px solid #202226;border-radius:3px;"></div>
<div class="t " style="left:216.50px;top:773px;font-size:17.5px;color:#d8d9da;"><span class="gl m">node1</span><span class="cj">：整体总负载与整体平均</span><span class="gl m">CPU</span><span class="cj">使用率</span></div>
<svg class="ic" style="left:95px;top:800px;width:595px;height:103px;overflow:hidden" viewBox="95 800 595 103"><g stroke="#393a3d" stroke-width="1.25"><line x1="167" y1="820.9" x2="627" y2="820.9"/><line x1="196.8" y1="820.3" x2="196.8" y2="903"/><line x1="272.8" y1="820.3" x2="272.8" y2="903"/><line x1="348" y1="820.3" x2="348" y2="903"/><line x1="423.3" y1="820.3" x2="423.3" y2="903"/><line x1="499.8" y1="820.3" x2="499.8" y2="903"/><line x1="575" y1="820.3" x2="575" y2="903"/></g><line x1="167" y1="863" x2="620.6" y2="863" stroke="#d8142f" stroke-width="2.5"/><g fill="#6ed0e0"><circle cx="291.6" cy="884.3" r="2.8"/><circle cx="537.3" cy="884.3" r="2.8"/><circle cx="272.9" cy="903.9" r="2.8"/></g></svg>
<div class="t " id="a1" style="left:131.85px;top:812px;font-size:15.5px;color:#c7d0d9;letter-spacing:-0.200px;">1.25</div>
<div class="t " id="a2" style="left:131.85px;top:854px;font-size:15.5px;color:#c7d0d9;letter-spacing:-0.200px;">1.00</div>
<div class="t " id="a3" style="left:131.85px;top:897px;font-size:15.5px;color:#c7d0d9;letter-spacing:-0.200px;">0.75</div>
<div class="t " id="a4" style="left:633.00px;top:812px;font-size:15.5px;color:#c7d0d9;letter-spacing:0.000px;transform:scaleX(.9);transform-origin:0 0;">1%</div>
</section>
<section class="panel-container graph-panel">
<div class="b " style="left:700px;top:762px;width:595px;height:148px;background:#141619;border:1px solid #202226;border-radius:3px;"></div>
<div class="t " style="left:821.30px;top:773px;font-size:17.5px;color:#d8d9da;"><span class="gl m">node1</span><span class="cj">：整体总内存与整体平均内存使用率</span></div>
<svg class="ic" style="left:700px;top:800px;width:595px;height:103px;overflow:hidden" viewBox="700 800 595 103"><g stroke="#393a3d" stroke-width="1.25"><line x1="797.3" y1="820.9" x2="1198" y2="820.9"/><line x1="797.3" y1="873.3" x2="1198" y2="873.3"/><line x1="824.3" y1="820.3" x2="824.3" y2="903"/><line x1="890.7" y1="820.3" x2="890.7" y2="903"/><line x1="957.1" y1="820.3" x2="957.1" y2="903"/><line x1="1024.8" y1="820.3" x2="1024.8" y2="903"/><line x1="1091.2" y1="820.3" x2="1091.2" y2="903"/><line x1="1157.3" y1="820.3" x2="1157.3" y2="903"/><line x1="1198" y1="820.9" x2="1204.5" y2="820.9"/><line x1="1198" y1="863.1" x2="1204.5" y2="863.1"/></g><line x1="797.3" y1="830.2" x2="1198" y2="830.2" stroke="#d8142f" stroke-width="2.5"/><g fill="#6ed0e0"><circle cx="873.9" cy="855.2" r="2.8"/><circle cx="940.6" cy="900.3" r="2.8"/><circle cx="1057.5" cy="899" r="2.8"/></g></svg>
<div class="t " id="a5" style="left:744.80px;top:812px;font-size:15.5px;color:#c7d0d9;letter-spacing:-0.780px;">1.9 GiB</div>
<div class="t " id="a6" style="left:744.80px;top:864px;font-size:15.5px;color:#c7d0d9;letter-spacing:-0.780px;">1.4 GiB</div>
<div class="t " id="a7" style="left:1209.60px;top:812px;font-size:15.5px;color:#c7d0d9;letter-spacing:-0.900px;">15.03%</div>
<div class="t " id="a8" style="left:1209.60px;top:854px;font-size:15.5px;color:#c7d0d9;letter-spacing:-0.900px;">15.02%</div>
<div class="t " id="a9" style="left:1209.60px;top:897px;font-size:15.5px;color:#c7d0d9;letter-spacing:-0.900px;">15.01%</div>
</section>
<section class="panel-container graph-panel">
<div class="b " style="left:1305px;top:762px;width:595px;height:148px;background:#141619;border:1px solid #202226;border-radius:3px;"></div>
<div class="t " style="left:1426.10px;top:773px;font-size:17.5px;color:#d8d9da;"><span class="gl m">node1</span><span class="cj">：整体总磁盘与整体平均磁盘使用率</span></div>
<svg class="ic" style="left:1305px;top:800px;width:595px;height:103px;overflow:hidden" viewBox="1305 800 595 103"><g stroke="#393a3d" stroke-width="1.25"><line x1="1403.3" y1="820.9" x2="1786.6" y2="820.9"/><line x1="1403.3" y1="855.6" x2="1786.6" y2="855.6"/><line x1="1403.3" y1="890.8" x2="1786.6" y2="890.8"/><line x1="1429.5" y1="820.3" x2="1429.5" y2="903"/><line x1="1493.1" y1="820.3" x2="1493.1" y2="903"/><line x1="1557" y1="820.3" x2="1557" y2="903"/><line x1="1620.7" y1="820.3" x2="1620.7" y2="903"/><line x1="1684.6" y1="820.3" x2="1684.6" y2="903"/><line x1="1748.5" y1="820.3" x2="1748.5" y2="903"/><line x1="1786.6" y1="820.9" x2="1793" y2="820.9"/><line x1="1786.6" y1="871.6" x2="1793" y2="871.6"/></g><line x1="1403.3" y1="850.2" x2="1786.6" y2="850.2" stroke="#d8142f" stroke-width="2.5"/><g fill="#6ed0e0"><circle cx="1700.4" cy="870.8" r="2.8"/><circle cx="1716.2" cy="870.8" r="2.8"/><circle cx="1732.1" cy="870.8" r="2.8"/><circle cx="1748.2" cy="870.8" r="2.8"/><circle cx="1764" cy="870.8" r="2.8"/><circle cx="1780.2" cy="870.8" r="2.8"/><circle cx="1652.3" cy="892.7" r="2.8"/><circle cx="1668.4" cy="892.7" r="2.8"/><circle cx="1684.3" cy="892.7" r="2.8"/></g></svg>
<div class="t " id="a10" style="left:1342.15px;top:812px;font-size:15.5px;color:#c7d0d9;letter-spacing:-0.720px;">55.9 GiB</div>
<div class="t " id="a11" style="left:1342.15px;top:847px;font-size:15.5px;color:#c7d0d9;letter-spacing:-0.720px;">46.6 GiB</div>
<div class="t " id="a12" style="left:1342.15px;top:882px;font-size:15.5px;color:#c7d0d9;letter-spacing:-0.720px;">37.3 GiB</div>
<div class="t " id="a13" style="left:1798.50px;top:812px;font-size:15.5px;color:#c7d0d9;letter-spacing:-0.800px;">3.29858%</div>
<div class="t " id="a14" style="left:1798.50px;top:863px;font-size:15.5px;color:#c7d0d9;letter-spacing:-0.800px;">3.29856%</div>
</section>
<svg class="ic" style="left:667px;top:898px;width:10px;height:4px" viewBox="0 0 10 4"><path fill="#b4bac2" d="M0 .8h2v3.200h-2zM4 3.200L7 .8h2.200v3.200h-5.200z"/></svg>
<svg class="ic" style="left:1272px;top:898px;width:10px;height:4px" viewBox="0 0 10 4"><path fill="#b4bac2" d="M0 .8h2v3.200h-2zM4 3.200L7 .8h2.200v3.200h-5.200z"/></svg>
<svg class="ic" style="left:1877px;top:898px;width:10px;height:4px" viewBox="0 0 10 4"><path fill="#b4bac2" d="M0 .8h2v3.200h-2zM4 3.200L7 .8h2.200v3.200h-5.200z"/></svg>
</main>
<div class="b " style="left:0px;top:902px;width:1920px;height:1px;background:#090d15;"></div>
<div class="b " style="left:184px;top:902px;width:61px;height:1px;background:#3a3b3f;"></div>
</div>
</body></html>
